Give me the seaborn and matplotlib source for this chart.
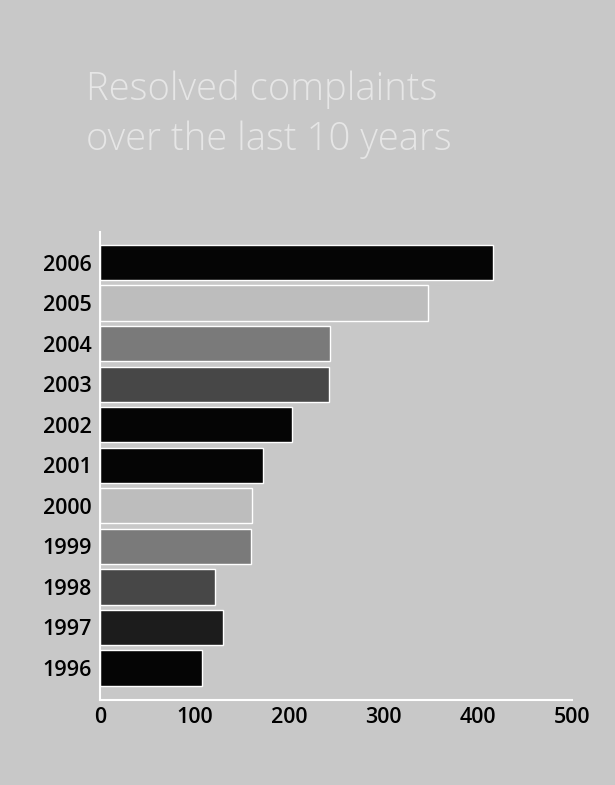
import matplotlib
matplotlib.use("Agg")
import matplotlib.pyplot as plt
import seaborn as sns
import pandas as pd

# data
years = ["2006", "2005", "2004", "2003", "2002", "2001", "2000", "1999", "1998", "1997", "1996"]
complaints = [416, 347, 244, 243, 203, 173, 161, 160, 122, 130, 108]
bar_colors = ["#050505", "#bdbdbd", "#7a7a7a", "#474747", "#050505", "#050505",
              "#bdbdbd", "#7a7a7a", "#474747", "#1c1c1c", "#050505"]
x_ticks = [0, 100, 200, 300, 400, 500]
title_lines = ["Resolved complaints", "over the last 10 years"]

bg = "#c8c8c8"
sns.set_theme(style="white")
plt.rcParams["font.family"] = ["Open Sans", "DejaVu Sans"]

df = pd.DataFrame({"year": years, "complaints": complaints})

fig = plt.figure(figsize=(6.15, 7.85), dpi=100, facecolor=bg)
ax = fig.add_axes([0.1626, 0.1083, 0.7675, 0.596])
ax.set_facecolor(bg)

sns.barplot(data=df, x="complaints", y="year", hue="year", palette=bar_colors,
            order=years, legend=False, width=0.87, saturation=1,
            edgecolor="white", linewidth=1.0, ax=ax)

ax.set_xlim(0, 500)
ax.set_ylim(10.79, -0.75)
ax.set_xticks(x_ticks)
ax.set_xlabel("")
ax.set_ylabel("")

for s in ["top", "right"]:
    ax.spines[s].set_visible(False)
for s in ["left", "bottom"]:
    ax.spines[s].set_color("white")
    ax.spines[s].set_linewidth(1.5)

ax.tick_params(axis="x", direction="in", length=10, width=1.5, color="white",
               pad=5, labelsize=15.5, labelcolor="black")
ax.tick_params(axis="y", length=0, pad=6, labelsize=15.5, labelcolor="black")
for lab in ax.get_xticklabels() + ax.get_yticklabels():
    lab.set_fontweight("semibold")

# title, two lines placed on their baselines
fig.text(0.14, 0.8726, title_lines[0], color="#e6e6e6", fontsize=27.5,
         fontweight="light", va="baseline", ha="left")
fig.text(0.14, 0.8089, title_lines[1], color="#e6e6e6", fontsize=27.5,
         fontweight="light", va="baseline", ha="left")

fig.savefig("out.png", dpi=100, facecolor=bg)
